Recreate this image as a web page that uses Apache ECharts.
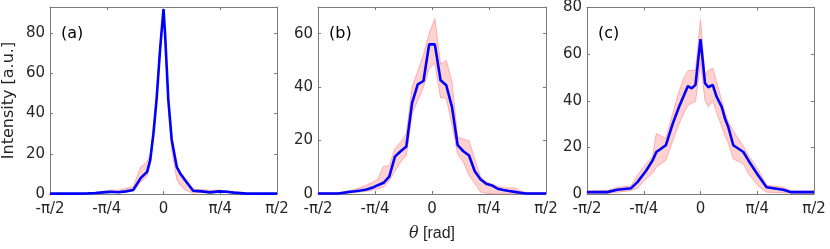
<!DOCTYPE html>
<html>
<head>
<meta charset="utf-8">
<script src="https://cdn.jsdelivr.net/npm/echarts@6/dist/echarts.min.js"></script>
<style>
html,body{margin:0;padding:0;background:#fff;}
#chart{width:830px;height:249px;}
</style>
</head>
<body>
<div id="chart"></div>
<script>
// ---- data (angles in degrees; -90..90 == -pi/2..pi/2) ----
const xTickValues = [-90, -45, 0, 45, 90];
const xTickLabels = ['-\u03c0/2', '-\u03c0/4', '0', '\u03c0/4', '\u03c0/2'];
const panelLabels = ['(a)', '(b)', '(c)'];
const yMaxes = [93, 70, 80];

const anglesA = [-90, -72, -60, -54, -48, -42, -36, -30, -24, -18, -13, -10.5, -8, -5.5, -2.7, 0, 1.2, 3.8, 6.5, 10.5, 13, 17, 23.5, 30, 37, 44, 50, 56, 66, 90];
const meanA   = [0.2, 0.2, 0.3, 0.5, 0.8, 1.1, 0.9, 1.3, 2.0, 8, 11, 17, 30, 47, 72, 92, 80, 47, 27, 13.5, 10.5, 7, 1.6, 1.3, 0.8, 1.3, 1.1, 0.7, 0.2, 0.2];
const upperA  = [0.3, 0.3, 0.5, 0.8, 1.2, 2.0, 1.8, 2.8, 3.6, 13.5, 16, 20, 32, 49, 74, 93, 81, 48, 28, 14, 11, 8, 2.5, 2.2, 1.8, 2.0, 1.6, 1.0, 0.3, 0.3];
const lowerA  = [0.1, 0.1, 0.2, 0.3, 0.5, 0.7, 0.6, 0.9, 1.5, 6, 9, 15, 28, 45, 70, 90, 78, 44, 22, 7.5, 4.5, 2, 0.5, 0.8, 0.5, 0.8, 0.7, 0.4, 0.1, 0.1];

const anglesB = [-90, -87.75, -83.25, -78.75, -74.25, -69.75, -65.25, -60.75, -56.25, -51.75, -47.25, -42.75, -38.25, -33.75, -29.25, -24.75, -20.25, -15.75, -11.25, -6.75, -2.25, 2.25, 6.75, 11.25, 15.75, 20.25, 24.75, 29.25, 33.75, 38.25, 42.75, 47.25, 51.75, 56.25, 60.75, 65.25, 69.75, 74.25, 78.75, 83.25, 87.75, 90];
const meanB   = [0.2, 0.2, 0.2, 0.2, 0.2, 0.5, 0.8, 1.0, 1.3, 1.7, 2.3, 3.3, 4.2, 6.5, 14, 16, 17.8, 34, 41, 42.3, 56, 56, 42.6, 40.7, 32.6, 18.3, 16, 14.4, 8.5, 5.5, 3.8, 3.2, 2.0, 1.5, 1.1, 0.8, 0.5, 0.2, 0.2, 0.2, 0.2, 0.2];
const upperB  = [0.5, 0.5, 0.5, 0.5, 0.5, 0.8, 1.2, 1.8, 2.5, 3.3, 4.3, 5.5, 10.4, 10.5, 17, 19.5, 22.5, 40, 46, 52, 60, 65.7, 48.6, 50, 42, 21.3, 20.5, 20, 13, 6.5, 4.5, 3.8, 2.8, 2.3, 2.2, 2.3, 1.2, 0.5, 0.5, 0.5, 0.5, 0.5];
const lowerB  = [0, 0, 0, 0, 0, 0.2, 0.4, 0.6, 0.8, 1.0, 1.5, 2, 2.5, 5, 8.5, 12, 14.5, 30, 35, 40, 47, 49, 36, 36, 26, 15, 12, 7, 4, 0.8, 0.3, 0.1, 0.1, 0.1, 0.1, 0.1, 0.1, 0, 0, 0, 0, 0];

const anglesC = [-90, -74, -66, -55, -50, -43, -38, -35, -27.5, -22, -17, -13, -10, -7, -4, 0, 3.6, 6.2, 9.7, 12.8, 16.8, 19.4, 22, 26, 34, 38, 45.7, 52.4, 65.5, 72, 90];
const meanC   = [0.8, 0.8, 1.8, 2.5, 5.1, 10.1, 14.4, 18, 20.9, 30.2, 37.4, 42.5, 46.3, 45.3, 46.8, 66.4, 47.5, 45.8, 46.8, 41.7, 37.4, 32.4, 28.8, 20.9, 18, 14.4, 8, 2.9, 1.8, 0.8, 0.8];
const upperC  = [1.3, 1.5, 2.8, 3.5, 8, 13, 16, 26, 23.8, 34.6, 44, 50, 52.8, 53, 53.2, 74.8, 51, 53, 54, 48, 40, 35, 31, 27, 20.5, 16.5, 10.5, 3.7, 2.9, 1.3, 1.3];
const lowerC  = [0.3, 0.3, 0.8, 1.5, 2.5, 6.5, 9, 11.5, 14.4, 23, 30, 35, 38, 39, 39.6, 56, 40.3, 37.4, 40, 35, 29, 25, 22, 15, 13, 8.7, 3.5, 0.8, 0.5, 0.3, 0.3];

const panels = [
  {angles: anglesA, mean: meanA, upper: upperA, lower: lowerA},
  {angles: anglesB, mean: meanB, upper: upperB, lower: lowerB},
  {angles: anglesC, mean: meanC, upper: upperC, lower: lowerC}
];

// ---- layout / style ----
const gridLefts = [50, 318, 587];
const gridWidths = [227, 228, 227];
const FONT = "'DejaVu Sans', 'Liberation Sans', Arial, sans-serif";
const FONT2 = "'Liberation Sans', Arial, Helvetica, sans-serif";
const TXT = '#262626';
const AXC = '#7a7a7a';
const BAND_FILL = '#ffd2d2';
const BAND_EDGE = '#ff9c9c';

const chart = echarts.init(document.getElementById('chart'), null, {renderer: 'canvas'});

const grids = [], xAxes = [], yAxes = [], series = [], titles = [];
function xFmt(v) {
  const i = xTickValues.indexOf(Math.round(v));
  return i >= 0 ? xTickLabels[i] : '';
}
panels.forEach((p, i) => {
  grids.push({left: gridLefts[i], width: gridWidths[i], top: 7, height: 187});
  const axisLine = {show: true, onZero: false, lineStyle: {color: AXC, width: 1}};
  const axisTick = {show: true, inside: true, length: 3, lineStyle: {color: AXC, width: 1}};
  xAxes.push({
    type: 'value', gridIndex: i, position: 'bottom', min: -90, max: 90, interval: 45,
    axisLine, axisTick, splitLine: {show: false},
    axisLabel: {formatter: xFmt, color: TXT, fontSize: 15, fontFamily: FONT, margin: 8},
    name: i === 1 ? '{i|\u03b8} [rad]' : '',
    nameLocation: 'middle', nameGap: 32,
    nameTextStyle: {color: TXT, fontSize: 16, fontFamily: FONT2,
      rich: {i: {fontStyle: 'italic', fontSize: 16, fontFamily: "'DejaVu Serif', 'Liberation Serif', serif", color: TXT}}}
  });
  xAxes.push({
    type: 'value', gridIndex: i, position: 'top', min: -90, max: 90, interval: 45,
    axisLine, axisTick, splitLine: {show: false}, axisLabel: {show: false}
  });
  yAxes.push({
    type: 'value', gridIndex: i, position: 'left', min: 0, max: yMaxes[i], interval: 20,
    axisLine, axisTick, splitLine: {show: false},
    axisLabel: {color: TXT, fontSize: 15, fontFamily: FONT, margin: 5, showMaxLabel: yMaxes[i] % 20 === 0},
    name: i === 0 ? 'Intensity [a.u.]' : '',
    nameLocation: 'middle', nameGap: 33,
    nameTextStyle: {color: TXT, fontSize: 16, fontFamily: FONT}
  });
  yAxes.push({
    type: 'value', gridIndex: i, position: 'right', min: 0, max: yMaxes[i], interval: 20,
    axisLine, axisTick, splitLine: {show: false}, axisLabel: {show: false}
  });
  // shaded band between lower and upper, drawn through the axis scales
  series.push({
    type: 'custom', xAxisIndex: 2 * i, yAxisIndex: 2 * i,
    data: p.angles.map((a, k) => [a, p.lower[k], p.upper[k]]),
    encode: {x: 0, y: [1, 2]},
    silent: true, z: 2,
    renderItem: function (params, api) {
      if (params.dataIndex !== 0) return null;
      const pts = [];
      for (let k = 0; k < p.angles.length; k++) pts.push(api.coord([p.angles[k], p.upper[k]]));
      for (let k = p.angles.length - 1; k >= 0; k--) pts.push(api.coord([p.angles[k], p.lower[k]]));
      return {
        type: 'polygon',
        shape: {points: pts},
        style: {fill: BAND_FILL, stroke: BAND_EDGE, lineWidth: 0.8}
      };
    }
  });
  series.push({
    type: 'line', xAxisIndex: 2 * i, yAxisIndex: 2 * i,
    data: p.angles.map((a, k) => [a, p.mean[k]]),
    symbol: 'none', lineStyle: {color: '#0000ff', width: 2.6}, z: 5, silent: true
  });
  titles.push({
    text: panelLabels[i], left: gridLefts[i] + 6, top: 21,
    textStyle: {color: '#000', fontSize: 16, fontWeight: 'normal', fontFamily: FONT}
  });
});

chart.setOption({
  animation: false,
  backgroundColor: '#ffffff',
  title: titles,
  grid: grids,
  xAxis: xAxes,
  yAxis: yAxes,
  series: series
});
</script>
</body>
</html>
